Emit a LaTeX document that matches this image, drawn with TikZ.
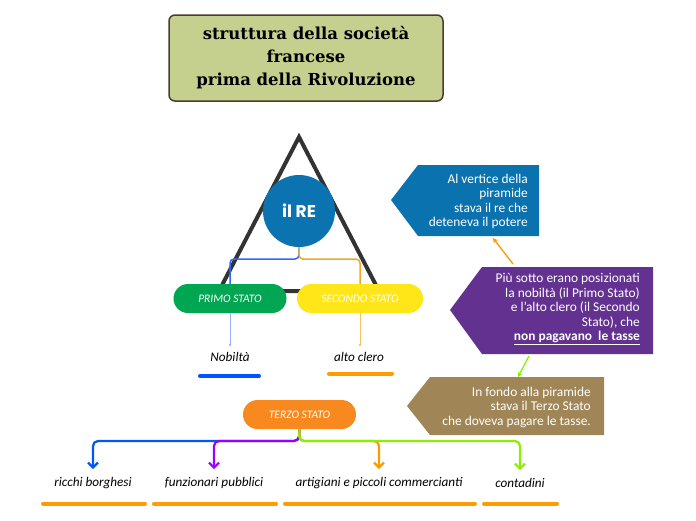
\documentclass[tikz,border=0pt]{standalone}
\usepackage{fontspec}
\setmainfont{Carlito}
\newfontfamily\titlefont{DejaVu Serif}
\newfontfamily\refont{Poppins}
\usetikzlibrary{arrows.meta}

\definecolor{titlegreen}{HTML}{C5D08E}
\definecolor{titleborder}{HTML}{4D3B2F}
\definecolor{pyramid}{HTML}{333333}
\definecolor{reblue}{HTML}{0A73B0}
\definecolor{primogreen}{HTML}{00A651}
\definecolor{secondoyellow}{HTML}{FFE619}
\definecolor{terzoorange}{HTML}{F7891F}
\definecolor{linkblue}{HTML}{3366FF}
\definecolor{linkorange}{HTML}{F5A623}
\definecolor{calloutblue}{HTML}{0A72AE}
\definecolor{calloutpurple}{HTML}{63318F}
\definecolor{calloutbrown}{HTML}{A08656}
\definecolor{branchblue}{HTML}{0055FF}
\definecolor{branchpurple}{HTML}{9900FF}
\definecolor{branchorange}{HTML}{FF9900}
\definecolor{branchgreen}{HTML}{88F000}
\definecolor{barorange}{HTML}{FF9C00}

\tikzset{
  pill/.style={rounded corners=14.5pt, minimum width=113pt, minimum height=29pt,
    inner sep=0pt, text=white, font=\itshape\fontsize{11.5}{12}\selectfont},
  leaf/.style={inner sep=0pt, font=\itshape\fontsize{13.2}{15}\selectfont},
  bar/.style={line width=4pt, line cap=round},
  link/.style={line width=1.5pt, rounded corners=4pt},
  branch/.style={line width=2.2pt, rounded corners=5pt, -{Straight Barb[length=5pt,width=10pt]}},
  callout/.style={inner sep=0pt, anchor=east, text=white, align=right,
    font=\fontsize{13.4}{14.5}\selectfont},
  hint/.style={line width=1.3pt, -{Stealth[length=5pt,width=5pt]}},
}

\begin{document}
\begin{tikzpicture}[x=1pt, y=-1pt]
  \useasboundingbox (0,0) rectangle (696,520);

  % titolo
  \node[draw=titleborder, line width=1.5pt, fill=titlegreen, rounded corners=6pt,
    minimum width=274pt, minimum height=86pt, align=center,
    font=\titlefont\bfseries\fontsize{16.5}{23}\selectfont] (titolo) at (306,58)
    {struttura della società\\francese\\prima della Rivoluzione};

  % piramide
  \draw[line width=4pt, pyramid] (299,137) -- (379,291) -- (219,291) -- cycle;
  \node[circle, fill=reblue, minimum size=72pt, inner sep=0pt, text=white,
    font=\refont\bfseries\fontsize{17}{17}\selectfont] (re) at (299,211) {il RE};

  \node[pill, fill=primogreen] (primo) at (230,298.5) {PRIMO STATO};
  \node[pill, fill=secondoyellow, minimum width=126pt] (secondo) at (360,298.5) {SECONDO STATO};
  \draw[link, linkblue] (re.south) -- (299,259) -| (primo.north);
  \draw[link, linkorange] (re.south) -- (299,259) -| (secondo.north);

  \node[leaf] (nobilta) at (230,356.5) {Nobiltà};
  \node[leaf] (clero) at (359,356.5) {alto clero};
  \draw[-{Stealth[length=3pt,width=3pt]}, linkblue!50, line width=0.8pt] (primo.south) -- ([yshift=5pt]nobilta.north);
  \draw[-{Stealth[length=3pt,width=3pt]}, linkorange!70, line width=0.8pt] (secondo.south) -- ([yshift=5pt]clero.north -| secondo.south);
  \draw[bar, branchblue] (200,376) -- (259,376);
  \draw[bar, barorange] (329,373.5) -- (392,373.5);

  % spiegazioni
  \fill[calloutblue] (391,200) -- (418,165) -- (539,165) -- (539,236) -- (418,236) -- cycle;
  \node[callout] (vertice) at (528,201.5)
    {Al vertice della\\piramide\\stava il re che\\deteneva il potere};
  \fill[calloutpurple] (450,310) -- (482,267) -- (653,267) -- (653,354) -- (482,354) -- cycle;
  \node[callout] (sotto) at (640,309)
    {Più sotto erano posizionati\\la nobiltà (il Primo Stato)\\e l’alto clero (il Secondo\\Stato), che\\\textbf{\underline{non pagavano\ \ le tasse}}};
  \fill[calloutbrown] (407,406) -- (430,377) -- (604,377) -- (604,435) -- (430,435) -- cycle;
  \node[callout] (fondo) at (591,407)
    {In fondo alla piramide\\stava il Terzo Stato\\che doveva pagare le tasse.};

  \coordinate (sotto-top) at (513,264);
  \coordinate (vertice-bottom) at (493,238);
  \coordinate (sotto-bottom) at (529,356);
  \coordinate (fondo-top) at (518,377);
  \draw[hint, branchorange] (sotto-top) -- (vertice-bottom);
  \draw[hint, branchgreen] (sotto-bottom) -- (fondo-top);

  % terzo stato
  \node[pill, fill=terzoorange] (terzo) at (299.5,414.5) {TERZO STATO};
  \node[leaf] (borghesi) at (93,483) {ricchi borghesi};
  \node[leaf] (funzionari) at (214,483) {funzionari pubblici};
  \node[leaf] (artigiani) at (379,483) {artigiani e piccoli commercianti};
  \node[leaf] (contadini) at (520,483) {contadini};

  \draw[branch, branchblue] (terzo.south) -- (299,441) -| ([yshift=8pt]borghesi.north);
  \draw[branch, branchpurple] (terzo.south) -- (299,441) -| ([yshift=8pt]funzionari.north);
  \draw[branch, branchorange] (terzo.south) -- (299,441) -| ([yshift=8pt]artigiani.north);
  \draw[branch, branchgreen] (terzo.south) -- (299,441) -| ([yshift=8pt]contadini.north);

  \draw[bar, barorange] (43,503.5) -- (145,503.5);
  \draw[bar, barorange] (154,503.5) -- (276,503.5);
  \draw[bar, barorange] (285,503.5) -- (475,503.5);
  \draw[bar, barorange] (484,503.5) -- (557,503.5);
\end{tikzpicture}
\end{document}
